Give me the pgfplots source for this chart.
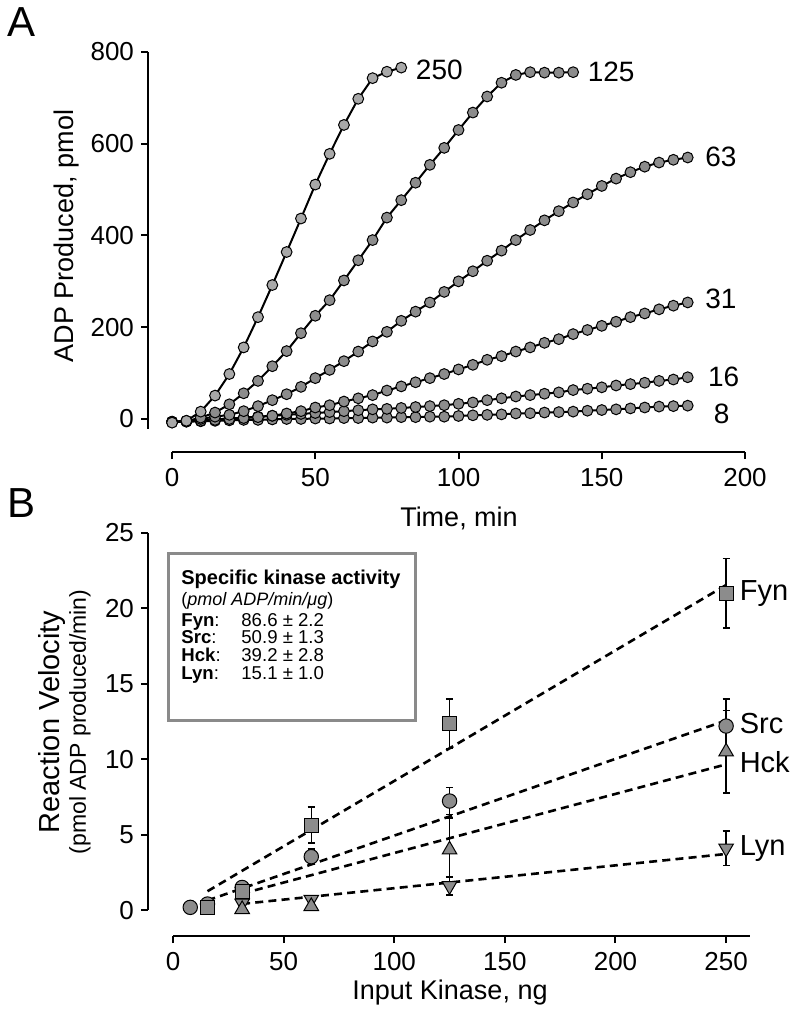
\documentclass[border=0pt]{standalone}
\usepackage{fontspec}
\setmainfont{Liberation Sans}
\usepackage{pgfplots}
\pgfplotsset{compat=1.18}
\newcommand{\PX}[2]{({(#1)*0.5pt},{-(#2)*0.5pt})}
\definecolor{mk}{HTML}{8C8C8C}
\definecolor{mkl}{HTML}{A8A8A8}
\definecolor{bx}{HTML}{8A8A8A}
\pgfplotsset{
  pA/.style={line width=1pt, black, mark=*, mark size=2.7pt,
     mark options={draw=black, line width=0.5pt, fill=mk}},
  bstyle/.style={only marks, black, line width=0.7pt,
   error bars/y dir=both, error bars/y explicit,
   error bars/error bar style={line width=0.7pt, black},
   error bars/error mark options={line width=0.7pt, mark size=1.8pt, rotate=90}}}
\begin{document}
\begin{tikzpicture}
\useasboundingbox (0pt,0pt) rectangle (397pt,-508pt);
% ---------------- Panel A ----------------
\begin{axis}[
  at={(74pt,-226pt)}, anchor=south west,
  scale only axis, width=298.5pt, height=200pt,
  xmin=-8.4, xmax=200, ymin=-72, ymax=800,
  clip=false,
  axis lines*=left, axis line style={draw=none},
  xtick={0,50,...,200}, ytick={0,200,...,800},
  tick align=outside, major tick length=3.5pt,
  tick style={black, line width=1pt},
  ticklabel style={font=\fontsize{13}{15}\selectfont},
  /pgf/number format/assume math mode=true,
  xticklabel style={yshift=-1pt},
]
\draw[line width=1pt] (axis cs:-8.4,800) -- (axis cs:-8.4,-22);
\draw[line width=1pt] (axis cs:0,-72) -- (axis cs:200,-72);
% 8
\addplot[pA] table {
0 -7
5 -6
10 -5
15 -4
20 -3
25 -2
30 -2
35 -1
40 0
45 0
50 1
55 1
60 2
65 2
70 3
75 3
80 4
85 4
90 5
95 5
100 6.5
105 8
110 9
115 10
120 12
125 12.5
130 14
135 15
140 16
145 18
150 19.5
155 21
160 23
165 25
170 27
175 28
180 29
};
% 16
\addplot[pA] table {
0 -6
5 -5
10 -3
15 -1
20 1
25 3
30 5
35 7
40 9
45 11
50 13
55 15
60 17
65 19
70 21
75 22
80 24
85 26
90 28
95 30
100 33
105 36
110 41
115 45
120 49
125 52
130 55
135 58
140 63
145 66
150 69
155 73
160 76
165 79
170 83
175 86
180 91
};
% 31
\addplot[pA] table {
0 -6
5 -5
10 -4
15 -2
20 0
25 2
30 4
35 7
40 12
45 17
50 25
55 30
60 38
65 45
70 52
75 62
80 71
85 80
90 89
95 98
100 108
105 118
110 129
115 137
120 147
125 156
130 166
135 174
140 185
145 194
150 203
155 212
160 222
165 230
170 239
175 247
180 254
};
% 63
\addplot[pA] table {
0 -6
5 -4
10 0
15 5
20 9
25 17
30 28
35 41
40 54
45 70
50 89
55 107
60 126
65 147
70 169
75 190
80 214
85 234
90 254
95 277
100 300
105 322
110 345
115 367
120 390
125 412
130 433
135 453
140 472
145 490
150 508
155 524
160 538
165 550
170 559
175 565
180 570
};
% 125
\addplot[pA] table {
0 -7
5 -5
10 3
15 14
20 32
25 56
30 83
35 115
40 148
45 187
50 225
55 259
60 302
65 346
70 390
75 439
80 477
85 515
90 554
95 591
100 630
105 668
110 703
115 733
120 750
125 756
130 755
135 755
140 756
};
% 250
\addplot[pA, mark options={draw=black, line width=0.5pt, fill=mkl}] table {
0 -8
5 -4
10 16
15 51
20 98
25 156
30 222
35 292
40 364
45 437
50 511
55 578
60 641
65 698
70 743
75 757
80 766
};
\begin{scope}[every node/.style={font=\fontsize{14}{17}\selectfont, anchor=west, inner sep=0pt}]
\node at (axis cs:85,762) {250};
\node at (axis cs:145,756) {125};
\node at (axis cs:186,572) {63};
\node at (axis cs:186,262) {31};
\node at (axis cs:187,92) {16};
\node at (axis cs:189,12) {8};
\end{scope}
\end{axis}
% ---------------- Panel B ----------------
\begin{axis}[
  at={(74pt,-468pt)}, anchor=south west,
  scale only axis, width=301pt, height=201.5pt,
  xmin=-11.3, xmax=260.8, ymin=-1.72, ymax=25,
  clip=false,
  axis lines*=left, axis line style={draw=none},
  xtick={0,50,...,250}, ytick={0,5,...,25},
  tick align=outside, major tick length=3.5pt,
  tick style={black, line width=1pt},
  ticklabel style={font=\fontsize{13}{15}\selectfont},
  /pgf/number format/assume math mode=true,
  xticklabel style={yshift=-1pt},
]
\draw[line width=1pt] (axis cs:-11.3,25) -- (axis cs:-11.3,0);
\draw[line width=1pt] (axis cs:0,-1.72) -- (axis cs:260.8,-1.72);
% regression lines
\addplot[black, line width=1.3pt, dash pattern=on 4pt off 2.6pt] coordinates {(15.6,1.25) (250,21.55)};
\addplot[black, line width=1.3pt, dash pattern=on 4pt off 2.6pt] coordinates {(15.6,0.64) (250,12.57)};
\addplot[black, line width=1.3pt, dash pattern=on 4pt off 2.6pt] coordinates {(31.25,1.09) (250,9.66)};
\addplot[black, line width=1.3pt, dash pattern=on 4pt off 2.6pt] coordinates {(31.25,0.41) (250,3.72)};
% Lyn
\addplot[bstyle, mark=triangle*, mark size=4.2pt, mark options={rotate=180, fill=mk, draw=black, line width=0.5pt}]
  table[x=x, y=y, y error=e] {
x y e
31.25 0.45 0
62.5 0.7 0
125 1.6 0.6
250 4.1 1.15
};
% Hck
\addplot[bstyle, mark=triangle*, mark size=4.2pt, mark options={fill=mk, draw=black, line width=0.5pt}]
  table[x=x, y=y, y error=e] {
x y e
31.25 0.05 0
62.5 0.25 0
125 4.0 2.1
250 10.5 2.75
};
% Src
\addplot[bstyle, mark=*, mark size=3.6pt, mark options={fill=mk, draw=black, line width=0.5pt}]
  table[x=x, y=y, y error=e] {
x y e
7.8 0.18 0
15.6 0.4 0
31.25 1.5 0.2
62.5 3.54 0.5
125 7.23 0.9
250 12.2 1.8
};
% Fyn
\addplot[bstyle, mark=square*, mark size=3.5pt, mark options={fill=mk, draw=black, line width=0.5pt}]
  table[x=x, y=y, y error=e] {
x y e
15.6 0.18 0
31.25 1.2 0.2
62.5 5.64 1.2
125 12.35 1.65
250 21.0 2.3
};
\begin{scope}[every node/.style={font=\fontsize{14.5}{17}\selectfont, anchor=west, inner sep=0pt}]
\node at (axis cs:256,21.0) {Fyn};
\node at (axis cs:256,12.4) {Src};
\node at (axis cs:256,9.8) {Hck};
\node at (axis cs:256,4.1) {Lyn};
\end{scope}
\end{axis}
% legend box
\draw[bx, line width=1.5pt, fill=white] \PX{168}{553} rectangle \PX{415}{720};
\begin{scope}[every node/.style={anchor=base west, inner sep=0pt}]
\node at \PX{181}{584} {\fontsize{10}{12}\selectfont\bfseries Specific kinase activity};
\node at \PX{181}{605} {\fontsize{9}{11}\selectfont (\textit{pmol ADP/min/μg})};
\node at \PX{181}{626} {\fontsize{9.3}{11}\selectfont\textbf{Fyn}:};
\node at \PX{181}{643.5} {\fontsize{9.3}{11}\selectfont\textbf{Src}:};
\node at \PX{181}{661.5} {\fontsize{9.3}{11}\selectfont\textbf{Hck}:};
\node at \PX{181}{679.5} {\fontsize{9.3}{11}\selectfont\textbf{Lyn}:};
\node at \PX{241}{626} {\fontsize{9.3}{11}\selectfont 86.6 ± 2.2};
\node at \PX{241}{643.5} {\fontsize{9.3}{11}\selectfont 50.9 ± 1.3};
\node at \PX{241}{661.5} {\fontsize{9.3}{11}\selectfont 39.2 ± 2.8};
\node at \PX{241}{679.5} {\fontsize{9.3}{11}\selectfont 15.1 ± 1.0};
\end{scope}
% labels
\node[font=\fontsize{21}{25}\selectfont] at \PX{22}{22} {A};
\node[font=\fontsize{21}{25}\selectfont] at \PX{22}{503} {B};
\node[font=\fontsize{13.5}{16}\selectfont, rotate=90] at \PX{67}{236} {ADP Produced, pmol};
\node[font=\fontsize{13.5}{16}\selectfont] at \PX{459}{518} {Time, min};
\node[font=\fontsize{14.5}{17}\selectfont, rotate=90] at \PX{52}{722} {Reaction Velocity};
\node[font=\fontsize{11.5}{13}\selectfont, rotate=90] at \PX{80}{722} {(pmol ADP produced/min)};
\node[font=\fontsize{13.5}{16}\selectfont] at \PX{450}{993} {Input Kinase, ng};
\end{tikzpicture}
\end{document}
